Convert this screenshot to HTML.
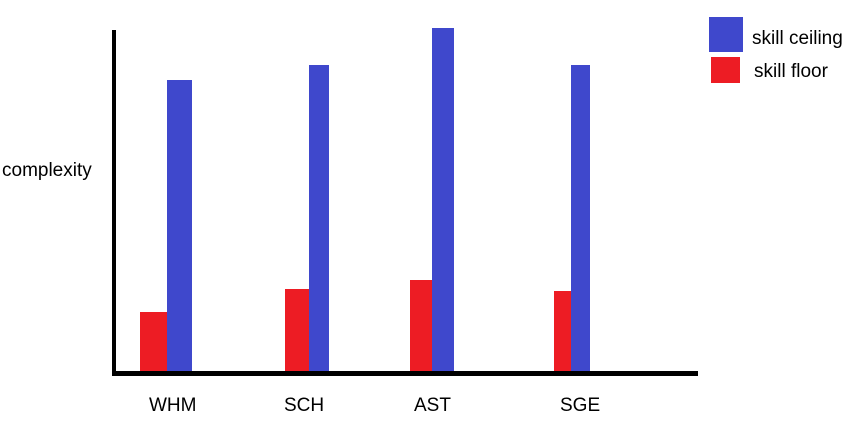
<!DOCTYPE html>
<html><head><meta charset="utf-8"><style>
html,body{margin:0;padding:0;background:#fff;}
svg text{font-family:"Liberation Sans",sans-serif;font-size:19px;fill:#000;}
</style></head><body>
<svg id="chart" width="865" height="428">
<g id="bars"></g>
<g id="labels"></g>
<rect x="112" y="30" width="4" height="346" fill="#000"/>
<rect x="112" y="371" width="586" height="5" fill="#000"/>
<text x="2" y="176">complexity</text>
<g>
<rect x="709" y="17" width="34" height="35" fill="#3f48cc"/>
<text x="752" y="44">skill ceiling</text>
<rect x="711" y="57" width="29" height="26" fill="#ed1c24"/>
<text x="754" y="77">skill floor</text>
</g>
</svg>
<script>
const categories = ["WHM", "SCH", "AST", "SGE"];
const skillFloor = [62, 85, 94, 83];
const skillCeiling = [294, 309, 346, 309];
const groupX = [140, 285, 410, 554];
const redW = [27, 24, 22, 17];
const blueW = [25, 20, 22, 19];
const labelX = [149, 284, 414, 560];
const baseY = 374;
function y(v){ return baseY - v; }
const ns = "http://www.w3.org/2000/svg";
const bars = document.getElementById('bars');
const labels = document.getElementById('labels');
categories.forEach((c, i) => {
  const r = document.createElementNS(ns, 'rect');
  r.setAttribute('x', groupX[i]); r.setAttribute('y', y(skillFloor[i]));
  r.setAttribute('width', redW[i]); r.setAttribute('height', skillFloor[i] + 1);
  r.setAttribute('fill', '#ed1c24');
  
  
  bars.appendChild(r);
  const b = document.createElementNS(ns, 'rect');
  b.setAttribute('x', groupX[i] + redW[i]); b.setAttribute('y', y(skillCeiling[i]));
  b.setAttribute('width', blueW[i]); b.setAttribute('height', skillCeiling[i] + 2);
  b.setAttribute('fill', '#3f48cc');
  
  
  bars.appendChild(b);
  const t = document.createElementNS(ns, 'text');
  t.setAttribute('x', labelX[i]); t.setAttribute('y', 411);
  t.textContent = c;
  
  
  labels.appendChild(t);
});
</script>
</body></html>
